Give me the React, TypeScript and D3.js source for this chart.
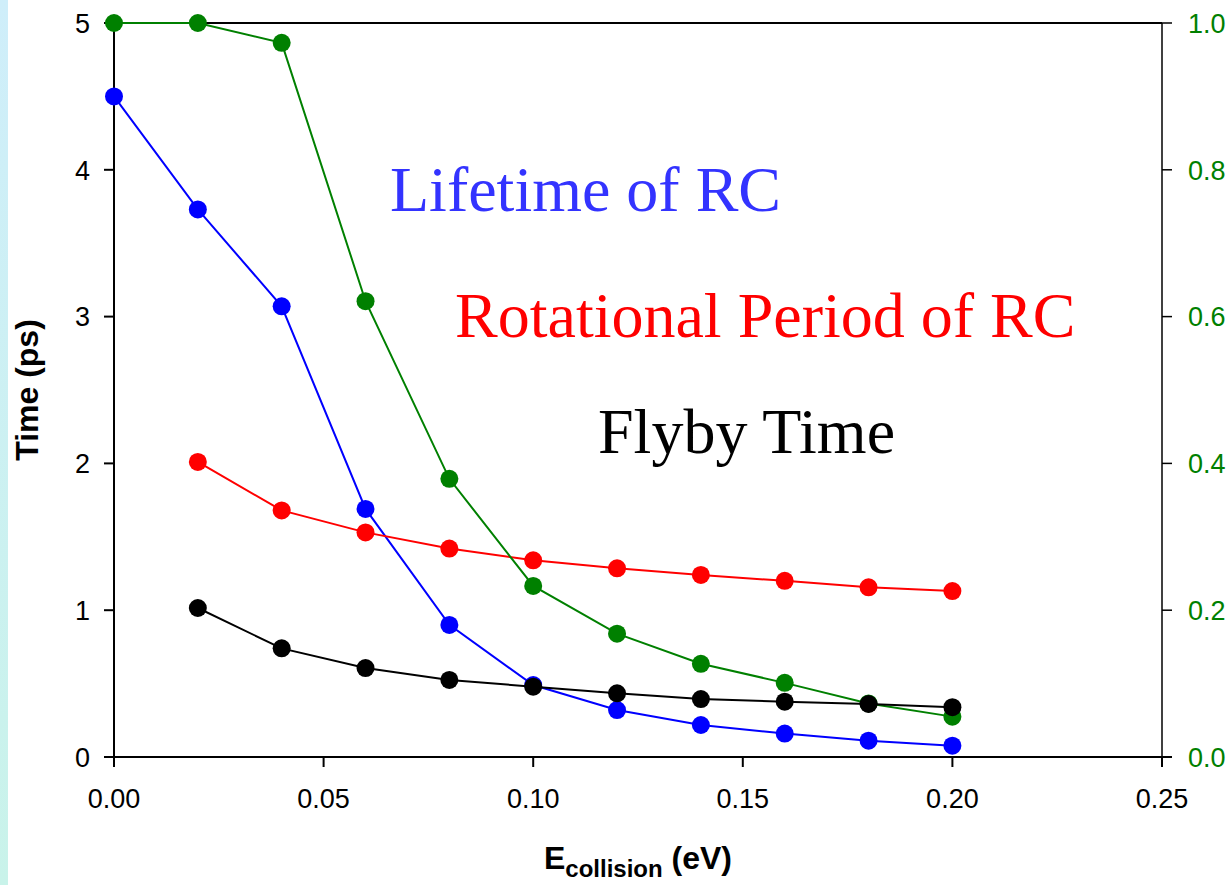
import React from "react";
import * as d3 from "d3";

const W = 1231;
const H = 885;
const M = { left: 114, right: 1162, top: 23, bottom: 757 };

const energies = [0.0, 0.02, 0.04, 0.06, 0.08, 0.1, 0.12, 0.14, 0.16, 0.18, 0.2];
const lifetime = [4.5, 3.73, 3.07, 1.69, 0.9, 0.49, 0.32, 0.218, 0.16, 0.111, 0.077];
const energiesShort = [0.02, 0.04, 0.06, 0.08, 0.1, 0.12, 0.14, 0.16, 0.18, 0.2];
const rotPeriod = [2.01, 1.68, 1.53, 1.42, 1.34, 1.285, 1.24, 1.2, 1.156, 1.13];
const flyby = [1.015, 0.74, 0.606, 0.525, 0.479, 0.434, 0.395, 0.377, 0.361, 0.339];
const fraction = [1.0, 1.0, 0.973, 0.621, 0.379, 0.233, 0.168, 0.127, 0.101, 0.073, 0.055];

const xTicks = [0, 0.05, 0.1, 0.15, 0.2, 0.25];
const yTicks = [0, 1, 2, 3, 4, 5];
const y2Ticks = [0, 0.2, 0.4, 0.6, 0.8, 1.0];

export default function App() {
  const x = d3.scaleLinear().domain([0, 0.25]).range([M.left, M.right]);
  const y = d3.scaleLinear().domain([0, 5]).range([M.bottom, M.top]);
  const y2 = d3.scaleLinear().domain([0, 1]).range([M.bottom, M.top]);

  const mk = (xs: number[], ys: number[], sc: any) =>
    d3
      .line<number>()
      .x((_, i) => x(xs[i]))
      .y((v) => sc(v))(ys) as string;

  const series = [
    { xs: energies, ys: lifetime, sc: y, color: "#0000FF" },
    { xs: energiesShort, ys: rotPeriod, sc: y, color: "#FF0000" },
    { xs: energies, ys: fraction, sc: y2, color: "#008000" },
    { xs: energiesShort, ys: flyby, sc: y, color: "#000000" },
  ];

  const tickFont = "Arial, 'Liberation Sans', sans-serif";
  const serif = "'Times New Roman', 'Liberation Serif', serif";

  return (
    <div style={{ position: "fixed", left: 0, top: 0, width: W, height: H, background: "#fff" }}>
      <svg width={W} height={H} style={{ display: "block" }}>
        <defs>
          <linearGradient id="stripe" x1="0" y1="0" x2="0" y2="1">
            <stop offset="0" stopColor="#cfeefa" />
            <stop offset="1" stopColor="#c9f3ea" />
          </linearGradient>
        </defs>
        <rect x={0} y={0} width={W} height={H} fill="#fff" />
        <rect x={0} y={0} width={8} height={H} fill="url(#stripe)" />

        {/* frame */}
        <line x1={M.left} x2={M.right} y1={M.top} y2={M.top} stroke="#000" strokeWidth={2} />
        <line x1={M.right} x2={M.right} y1={M.top} y2={M.bottom} stroke="#000" strokeWidth={1.5} />
        <line x1={M.left} x2={M.left} y1={M.top} y2={M.bottom + 10} stroke="#000" strokeWidth={2} />
        <line x1={M.left - 10} x2={M.right + 10} y1={M.bottom} y2={M.bottom} stroke="#000" strokeWidth={2} />

        {/* x ticks */}
        {xTicks.map((t) => (
          <g key={"x" + t}>
            <line x1={x(t)} x2={x(t)} y1={M.bottom} y2={M.bottom + 10} stroke="#000" strokeWidth={2} />
            <text x={x(t)} y={808} textAnchor="middle" fontFamily={tickFont} fontSize={27} fill="#000">
              {t.toFixed(2)}
            </text>
          </g>
        ))}
        {/* y ticks */}
        {yTicks.map((t) => (
          <g key={"y" + t}>
            <line x1={M.left - 10} x2={M.left} y1={y(t)} y2={y(t)} stroke="#000" strokeWidth={2} />
            <text x={90} y={y(t)} dy="0.36em" textAnchor="end" fontFamily={tickFont} fontSize={27} fill="#000">
              {t}
            </text>
          </g>
        ))}
        {/* y2 ticks */}
        {y2Ticks.map((t) => (
          <g key={"y2" + t}>
            <line x1={M.right} x2={M.right + 10} y1={y2(t)} y2={y2(t)} stroke="#000" strokeWidth={1.5} />
            <text x={1188} y={y2(t)} dy="0.36em" textAnchor="start" fontFamily={tickFont} fontSize={27} fill="#008000">
              {t.toFixed(1)}
            </text>
          </g>
        ))}

        {/* series */}
        {series.map((s, si) => (
          <g key={"s" + si}>
            <path d={mk(s.xs, s.ys, s.sc)} fill="none" stroke={s.color} strokeWidth={2} />
            {s.ys.map((v, i) => (
              <circle key={i} cx={x(s.xs[i])} cy={s.sc(v)} r={9} fill={s.color} />
            ))}
          </g>
        ))}

        {/* annotations */}
        <text x={390} y={211} fontFamily={serif} fontSize={64} fill="#3333FF">
          Lifetime of RC
        </text>
        <text x={455} y={337} fontFamily={serif} fontSize={64} fill="#FF0000">
          Rotational Period of RC
        </text>
        <text x={598} y={453} fontFamily={serif} fontSize={64} fill="#000">
          Flyby Time
        </text>

        {/* axis titles */}
        <text
          transform={`translate(38, ${(M.top + M.bottom) / 2}) rotate(-90)`}
          textAnchor="middle"
          fontFamily={tickFont}
          fontWeight="bold"
          fontSize={32}
          fill="#000"
        >
          Time (ps)
        </text>
        <text x={(M.left + M.right) / 2} y={869} textAnchor="middle" fontFamily={tickFont} fontWeight="bold" fontSize={32} fill="#000">
          E
          <tspan fontSize={24} dy={8}>collision</tspan>
          <tspan dy={-8}> (eV)</tspan>
        </text>
      </svg>
    </div>
  );
}
